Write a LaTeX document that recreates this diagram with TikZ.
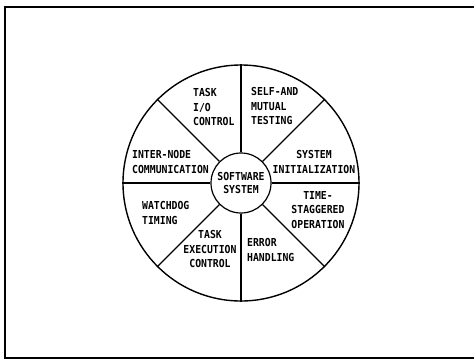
\documentclass[tikz,border=0pt]{standalone}
\usepackage{fontspec}
\newfontfamily\plotfont[FakeStretch=0.89]{DejaVu Sans Mono Bold}
\begin{document}
\begin{tikzpicture}[x=1pt,y=-1pt,
  frame/.style={line width=1.4pt,black},
  rim/.style={draw,circle,line width=1.4pt,minimum size=236pt,inner sep=0pt},
  hubbox/.style={draw,circle,line width=1.2pt,minimum size=60pt,inner sep=0pt,align=center,
    font=\plotfont\fontsize{11}{13}\selectfont},
  spoke/.style={line width=1.2pt},
  lbl/.style={inner sep=0pt,font=\plotfont\fontsize{11}{14.5}\selectfont}]
  \useasboundingbox (0,0) rectangle (474,360);
  % page frame: left, top and bottom rules
  \draw[frame] (474,7) -- (5,7) -- (5,358) -- (474,358);
  % wheel and hub
  \node[rim] (wheel) at (241,183) {};
  \node[hubbox] (hub) at (241,183) {SOFTWARE\\SYSTEM};
  % eight spokes
  \foreach \a in {0,45,...,315}
    \draw[spoke] (hub.\a) -- (wheel.\a);
  % sector labels
  \node[lbl,anchor=west,align=left] (tio) at (193,107) {TASK\\I/O\\CONTROL};
  \node[lbl,anchor=west,align=left] (smt) at (251,106) {SELF-AND\\MUTUAL\\TESTING};
  \node[lbl,align=center] (sin) at (314,162) {SYSTEM\\INITIALIZATION};
  \node[lbl,align=center] (tso) at (318,210) {TIME-\\STAGGERED\\OPERATION};
  \node[lbl,anchor=west,align=left] (erh) at (247,250) {ERROR\\HANDLING};
  \node[lbl,align=center] (tec) at (210,249) {TASK\\EXECUTION\\CONTROL};
  \node[lbl,anchor=west,align=left] (wdt) at (142,213) {WATCHDOG\\TIMING};
  \node[lbl,anchor=west,align=left] (inc) at (132,162) {INTER-NODE\\COMMUNICATION};
\end{tikzpicture}
\end{document}
